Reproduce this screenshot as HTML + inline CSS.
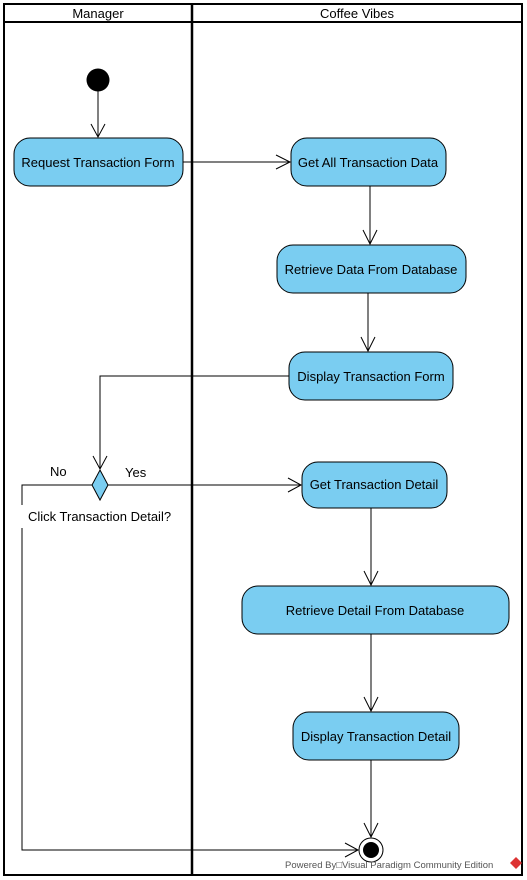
<!DOCTYPE html>
<html><head><style>body{margin:0;background:#fff}svg{display:block}text{font-family:"Liberation Sans",sans-serif;font-size:13px;fill:#000}</style></head><body>
<svg width="527" height="880" viewBox="0 0 527 880">
<rect x="4" y="4" width="518" height="871" fill="#fff" stroke="#000" stroke-width="2"/>
<line x1="4" y1="22" x2="522" y2="22" stroke="#000" stroke-width="2"/>
<line x1="192" y1="4" x2="192" y2="875" stroke="#000" stroke-width="2.5"/>
<text x="98" y="18" text-anchor="middle">Manager</text>
<text x="357" y="18" text-anchor="middle">Coffee Vibes</text>
<g fill="#7acdf1" stroke="#000" stroke-width="1">
<rect x="14" y="138" width="169" height="48" rx="16"/>
<rect x="291" y="138" width="155" height="48" rx="16"/>
<rect x="277" y="245" width="189" height="48" rx="16"/>
<rect x="289" y="352" width="164" height="48" rx="16"/>
<rect x="302" y="462" width="145" height="46" rx="16"/>
<rect x="242" y="586" width="267" height="48" rx="16"/>
<rect x="293" y="712" width="166" height="48" rx="16"/>
<polygon points="100,470 108,485 100,500 92,485"/>
</g>
<circle cx="98" cy="80" r="11.5" fill="#000"/>
<circle cx="371" cy="850" r="12" fill="#fff" stroke="#000"/>
<circle cx="371" cy="850" r="8" fill="#000"/>
<g text-anchor="middle">
<text x="98" y="167">Request Transaction Form</text>
<text x="368" y="167">Get All Transaction Data</text>
<text x="371" y="274">Retrieve Data From Database</text>
<text x="371" y="381">Display Transaction Form</text>
<text x="374" y="489">Get Transaction Detail</text>
<text x="375" y="615">Retrieve Detail From Database</text>
<text x="376" y="741">Display Transaction Detail</text>
</g>
<text x="50" y="476">No</text>
<text x="125" y="477">Yes</text>
<text x="28" y="521">Click Transaction Detail?</text>
<g stroke="#000" fill="none" stroke-width="1">
<path d="M98 91V137M91 124l7 13 7-13"/>
<path d="M183 162H290M276 155l14 7-14 7"/>
<path d="M370 186V244M363 230l7 14 7-14"/>
<path d="M368 293V351M361 337l7 14 7-14"/>
<path d="M289 376H100V469M93 456l7 13 7-13"/>
<path d="M108 485H301M288 478l13 7-13 7"/>
<path d="M92 485H22V505M22 528V850H358M345 843l13 7-13 7"/>
<path d="M371 508V585M364 571l7 14 7-14"/>
<path d="M371 634V711M364 697l7 14 7-14"/>
<path d="M371 760V837M364 823l7 14 7-14"/>
</g>
<text x="285" y="868" style="font-size:9.5px;fill:#555">Powered By□Visual Paradigm Community Edition</text>
<polygon points="516,857 522,863 516,869 510,863" fill="#d33"/>
</svg>
</body></html>
